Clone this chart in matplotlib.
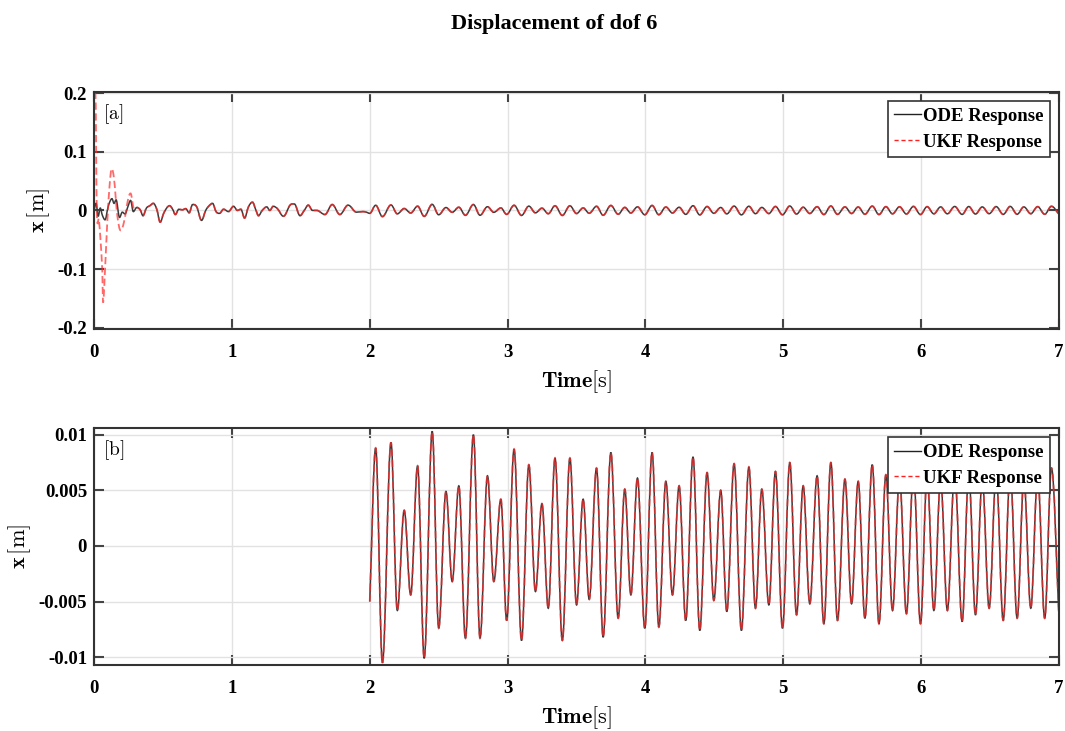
import matplotlib.pyplot as plt
from matplotlib.path import Path
from matplotlib.patches import PathPatch
from matplotlib.lines import Line2D

plt.rcParams['font.family'] = ['Liberation Serif', 'DejaVu Serif']
plt.rcParams['font.weight'] = 'bold'
plt.rcParams['mathtext.fontset'] = 'cm'

# ODE response, first two seconds (transient part)
t_early = [0.0, 0.015, 0.03, 0.045, 0.06, 0.08, 0.1, 0.115, 0.13, 0.145, 0.16, 0.185,
           0.205, 0.225, 0.245, 0.265, 0.285, 0.31, 0.335, 0.355, 0.38, 0.405, 0.43,
           0.455, 0.48, 0.505, 0.53, 0.548, 0.57, 0.59, 0.615, 0.64, 0.665, 0.69,
           0.715, 0.745, 0.78, 0.81, 0.835, 0.86, 0.885, 0.91, 0.94, 0.975, 1.012,
           1.04, 1.065, 1.092, 1.12, 1.149, 1.175, 1.193, 1.22, 1.253, 1.275, 1.30,
           1.33, 1.374, 1.422, 1.453, 1.494, 1.525, 1.554, 1.585, 1.615, 1.675,
           1.728, 1.783, 1.843, 1.904, 1.95, 1.975]
x_early = [0.0, 0.012, -0.01, 0.004, -0.008, -0.016, 0.004, 0.015, 0.02, 0.012, 0.018,
           -0.012, -0.003, -0.006, 0.006, 0.017, -0.002, 0.005, 0.001, -0.009, 0.004,
           0.008, 0.012, 0.002, -0.02, -0.005, 0.005, 0.008, 0.002, -0.007, 0.002,
           0.001, 0.003, -0.004, 0.01, 0.006, -0.017, 0.0, 0.008, 0.012, -0.002,
           -0.005, 0.002, -0.002, 0.007, 0.0, 0.002, -0.013, 0.006, 0.014, 0.0,
           -0.009, 0.0, 0.006, 0.0, 0.007, 0.003, -0.01, 0.009, 0.011, -0.009, 0.0,
           0.009, 0.0, 0.0, -0.007, 0.01, -0.007, 0.009, -0.003, -0.002, -0.003]

# ODE response from 2 s to 7 s (peaks and troughs)
t_late = [2.0, 2.043, 2.092, 2.154, 2.2, 2.25, 2.297, 2.347, 2.395, 2.453, 2.5, 2.553,
          2.598, 2.646, 2.694, 2.752, 2.8, 2.854, 2.9, 2.951, 2.993, 3.047, 3.101,
          3.154, 3.202, 3.249, 3.295, 3.344, 3.397, 3.452, 3.5, 3.548, 3.592, 3.645,
          3.693, 3.749, 3.802, 3.85, 3.894, 3.942, 3.995, 4.048, 4.097, 4.148, 4.196,
          4.244, 4.292, 4.345, 4.394, 4.447, 4.496, 4.546, 4.59, 4.643, 4.696, 4.75,
          4.798, 4.844, 4.895, 4.943, 4.994, 5.047, 5.096, 5.144, 5.192, 5.245, 5.294,
          5.345, 5.393, 5.447, 5.495, 5.543, 5.592, 5.645, 5.694, 5.744, 5.792, 5.843,
          5.893, 5.944, 5.995, 6.043, 6.092, 6.141, 6.19, 6.243, 6.297, 6.345, 6.394,
          6.443, 6.493, 6.544, 6.595, 6.646, 6.696, 6.745, 6.795, 6.845, 6.896, 6.945,
          7.0]
x_late = [-0.005, 0.0088, -0.0105, 0.0093, -0.0058, 0.0032, -0.0044, 0.0072, -0.0101,
          0.0103, -0.0074, 0.0049, -0.0032, 0.0054, -0.0083, 0.01, -0.0083, 0.0063,
          -0.0032, 0.0042, -0.0067, 0.0087, -0.0085, 0.0073, -0.0041, 0.0038, -0.0056,
          0.0079, -0.0085, 0.0079, -0.0053, 0.0042, -0.0048, 0.007, -0.0082, 0.0084,
          -0.0065, 0.0051, -0.0044, 0.0061, -0.0074, 0.0084, -0.0073, 0.0058, -0.0044,
          0.0054, -0.0067, 0.008, -0.0076, 0.0066, -0.0049, 0.005, -0.0059, 0.0074,
          -0.0076, 0.0071, -0.0056, 0.0051, -0.0053, 0.0067, -0.0074, 0.0075, -0.0062,
          0.0054, -0.0052, 0.0063, -0.007, 0.0075, -0.0067, 0.006, -0.0052, 0.0058,
          -0.0065, 0.0073, -0.007, 0.0064, -0.0058, 0.0062, -0.0061, 0.0068, -0.007,
          0.0064, -0.0058, 0.006, -0.0058, 0.0067, -0.0068, 0.0066, -0.0062, 0.006,
          -0.0056, 0.0065, -0.0067, 0.0068, -0.0065, 0.006, -0.0056, 0.0064, -0.0065,
          0.007, -0.0065]

# UKF estimate during its initial transient
t_ukf0 = [0.0, 0.01, 0.02, 0.036, 0.06, 0.065, 0.08, 0.096, 0.113, 0.128, 0.145, 0.169,
          0.193, 0.217, 0.248, 0.265, 0.29]
x_ukf0 = [0.2, 0.2, 0.0, -0.017, -0.103, -0.157, -0.1, -0.02, 0.043, 0.071, 0.054,
          -0.009, -0.034, -0.02, 0.02, 0.029, 0.003]

t_ode = t_early + t_late
x_ode = x_early + x_late
# after the transient the UKF follows the ODE response
t_ukf = t_ukf0 + [t for t in t_ode if t > t_ukf0[-1]]
x_ukf = x_ukf0 + [x for t, x in zip(t_ode, x_ode) if t > t_ukf0[-1]]


def smooth_path(t, x, k=0.363):
    # cubic bezier through the points, flat at peaks/troughs
    n = len(t)
    slopes = []
    for i in range(n):
        if i == 0:
            s = (x[1] - x[0]) / (t[1] - t[0])
        elif i == n - 1:
            s = (x[-1] - x[-2]) / (t[-1] - t[-2])
        elif (x[i] - x[i - 1]) * (x[i + 1] - x[i]) <= 0:
            s = 0.0
        else:
            s = (x[i + 1] - x[i - 1]) / (t[i + 1] - t[i - 1])
        slopes.append(s)
    verts = [(t[0], x[0])]
    codes = [Path.MOVETO]
    for i in range(n - 1):
        dt = t[i + 1] - t[i]
        verts += [(t[i] + k * dt, x[i] + slopes[i] * k * dt),
                  (t[i + 1] - k * dt, x[i + 1] - slopes[i + 1] * k * dt),
                  (t[i + 1], x[i + 1])]
        codes += [Path.CURVE4] * 3
    return Path(verts, codes)


ode_style = dict(edgecolor='#3a3a3a', lw=1.1)
ukf_style = dict(edgecolor='#ff2a2a', lw=1.3, ls=(0, (4, 2)), alpha=0.7)

fig = plt.figure(figsize=(10.65, 7.31), dpi=100)
ax1 = fig.add_axes([0.0883, 0.55, 0.9061, 0.3243])
ax2 = fig.add_axes([0.0883, 0.0903, 0.9061, 0.3242])

panels = [
    (ax1, t_ode, x_ode, t_ukf, x_ukf, (-0.202, 0.202), [-0.2, -0.1, 0, 0.1, 0.2],
     ['-0.2', '-0.1', '0', '0.1', '0.2'], r'$[\mathrm{a}]$'),
    (ax2, t_late, x_late, t_late, x_late, (-0.0107, 0.0106),
     [-0.01, -0.005, 0, 0.005, 0.01], ['-0.01', '-0.005', '0', '0.005', '0.01'],
     r'$[\mathrm{b}]$'),
]

for ax, to, xo, tu, xu, ylim, yt, ytl, tag in panels:
    ax.add_patch(PathPatch(smooth_path(to, xo), facecolor='none', **ode_style))
    ax.add_patch(PathPatch(smooth_path(tu, xu), facecolor='none', **ukf_style))
    ax.set_xlim(0, 7)
    ax.set_ylim(*ylim)
    ax.set_xticks(range(8))
    ax.set_yticks(yt)
    ax.set_yticklabels(ytl)
    ax.grid(True, color='#e2e2e2', lw=1.0)
    ax.set_axisbelow(True)
    ax.tick_params(direction='in', length=7, width=1.5, top=True, right=True,
                   labelsize=13.5, color='#444444')
    ax.tick_params(axis='x', pad=11)
    ax.tick_params(axis='y', pad=5)
    for s in ax.spines.values():
        s.set_linewidth(1.5)
        s.set_color('#333333')
    ax.set_xlabel(r'$\mathbf{Time}[\mathrm{s}]$', fontsize=16, labelpad=5)
    ax.set_ylabel(r'$\mathbf{x}\,[\mathrm{m}]$', fontsize=16)
    ax.text(0.009, 0.905, tag, transform=ax.transAxes, fontsize=14,
            va='center', ha='left')
    handles = [Line2D([], [], color='#222222', lw=1.0),
               Line2D([], [], color='#ff2020', lw=1.0, ls=(0, (3, 2)))]
    leg = ax.legend(handles, ['ODE Response', 'UKF Response'], loc='upper right',
                    fontsize=13.5, fancybox=False, framealpha=1, edgecolor='#333333',
                    borderaxespad=0.5, handlelength=1.4, handletextpad=0.1,
                    labelspacing=0.45, borderpad=0.35)
    leg.get_frame().set_linewidth(1.2)

fig.text(0.52, 0.967, 'Displacement of dof 6', ha='center', va='center',
         fontsize=16, fontweight='bold')

plt.savefig('out.png', dpi=100)
